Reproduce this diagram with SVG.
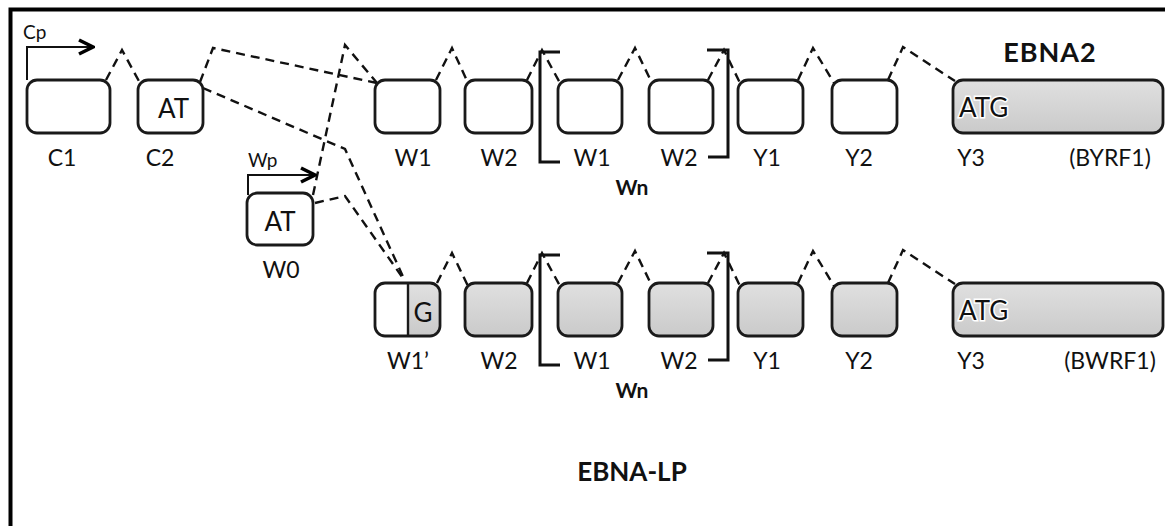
<svg xmlns="http://www.w3.org/2000/svg" width="1165" height="526" viewBox="0 0 1165 526">
  <defs>
    <linearGradient id="shade" x1="0" y1="0" x2="0" y2="1">
      <stop offset="0" stop-color="#e0e0e0"/>
      <stop offset="1" stop-color="#cacaca"/>
    </linearGradient>
    <marker id="chev" viewBox="0 0 18 18" refX="16" refY="9" markerWidth="18" markerHeight="18" markerUnits="userSpaceOnUse" orient="auto">
      <path d="M2,2 L16,9 L2,16" fill="none" stroke="#000" stroke-width="3.6" stroke-linejoin="miter"/>
    </marker>
    <style>
      .exon { fill: #fff; stroke: #1a1a1a; stroke-width: 2.8; }
      .exon.coding { fill: url(#shade); }
      .lbl { font-family: Lato, "Open Sans", sans-serif; font-size: 23px; fill: #111; text-anchor: middle; }
      .inbox { font-family: Lato, "Open Sans", sans-serif; font-size: 26px; fill: #111; }
      .atg { paint-order: stroke; stroke: #fff; stroke-width: 3; }
      .bold { font-family: Lato, "Open Sans", sans-serif; font-weight: bold; fill: #111; text-anchor: middle; }
      .prom { font-family: Lato, "Open Sans", sans-serif; font-size: 19px; fill: #111; }
      .splice { fill: none; stroke: #111; stroke-width: 2.4; stroke-dasharray: 9 6; }
      .bracket { fill: none; stroke: #111; stroke-width: 3; }
      .arrow { fill: none; stroke: #111; stroke-width: 2; marker-end: url(#chev); }
    </style>
  </defs>

  <rect width="1165" height="526" fill="#fff"/>
  <!-- frame -->
  <path d="M10.5,526 V9.5 H1165" fill="none" stroke="#000" stroke-width="4"/>

  <!-- splice connectors -->
  <g id="connectors">
    <!-- EBNA2 transcript -->
    <polyline class="splice" points="106,80 122,50 140,83"/>
    <polyline class="splice" points="200,82 213,48 377,83"/>
    <polyline class="splice" points="203,88 345,149 405,281"/>
    <polyline class="splice" points="313,195 345,45 377,83"/>
    <polyline class="splice" points="315,203 345,196 405,281"/>
    <polyline class="splice" points="436,80 452,48 468,83"/>
    <polyline class="splice" points="527,80 542,50 560,83"/>
    <polyline class="splice" points="618,80 635,48 652,83"/>
    <polyline class="splice" points="708,80 724,50 740,83"/>
    <polyline class="splice" points="798,80 813,48 834,83"/>
    <polyline class="splice" points="888,80 903,47 955,81"/>
    <!-- EBNA-LP transcript -->
    <polyline class="splice" points="437,283 452,253 468,286"/>
    <polyline class="splice" points="527,283 542,253 560,286"/>
    <polyline class="splice" points="618,283 635,251 652,286"/>
    <polyline class="splice" points="708,283 724,253 740,286"/>
    <polyline class="splice" points="798,283 813,251 834,286"/>
    <polyline class="splice" points="888,283 903,250 955,284"/>
    <!-- promoters -->
    <polyline class="arrow" points="27,80 27,47 93,47"/>
    <polyline class="arrow" points="248,195 248,175 315,175"/>
  </g>

  <!-- repeat brackets -->
  <g id="repeat-top">
    <path class="bracket" d="M560,52 H540 V162 H560"/>
    <path class="bracket" d="M707,50 H728 V157 H708"/>
    <text class="bold" x="632" y="195" font-size="21">Wn</text>
  </g>
  <g id="repeat-bottom">
    <path class="bracket" d="M560,255 H540 V365 H560"/>
    <path class="bracket" d="M707,253 H728 V360 H708"/>
    <text class="bold" x="632" y="398" font-size="21">Wn</text>
  </g>

  <!-- EBNA2 exons -->
  <g id="C1"><rect class="exon" x="27" y="80" width="83" height="53" rx="10"/><text class="lbl" x="62" y="166">C1</text></g>
  <g id="C2"><rect class="exon" x="138" y="80" width="65" height="53" rx="10"/><text class="inbox" x="158" y="118">AT</text><text class="lbl" x="160" y="166">C2</text></g>
  <g id="W1-a"><rect class="exon" x="375" y="80" width="65" height="53" rx="10"/><text class="lbl" x="413" y="166">W1</text></g>
  <g id="W2-a"><rect class="exon" x="465" y="80" width="67" height="53" rx="10"/><text class="lbl" x="499" y="166">W2</text></g>
  <g id="W1n-a"><rect class="exon" x="558" y="80" width="64" height="53" rx="10"/><text class="lbl" x="592" y="166">W1</text></g>
  <g id="W2n-a"><rect class="exon" x="649" y="80" width="64" height="53" rx="10"/><text class="lbl" x="679" y="166">W2</text></g>
  <g id="Y1-a"><rect class="exon" x="738" y="80" width="65" height="53" rx="10"/><text class="lbl" x="767" y="166">Y1</text></g>
  <g id="Y2-a"><rect class="exon" x="832" y="80" width="65" height="53" rx="10"/><text class="lbl" x="859" y="166">Y2</text></g>
  <g id="Y3-a">
    <rect class="exon coding" x="953" y="80" width="210" height="53" rx="10"/>
    <text class="inbox atg" x="959" y="117">ATG</text>
    <text class="lbl" x="971" y="166">Y3</text>
    <text class="lbl" x="1110" y="166">(BYRF1)</text>
    <text class="bold" x="1050" y="62" font-size="27" letter-spacing="1">EBNA2</text>
  </g>

  <!-- W promoter exon -->
  <g id="W0">
    <rect class="exon" x="247" y="193" width="66" height="52" rx="10"/>
    <text class="inbox" x="280" y="231" text-anchor="middle">AT</text>
    <text class="lbl" x="281" y="278">W0</text>
  </g>
  <text class="prom" x="23" y="39">Cp</text>
  <text class="prom" x="248" y="167">Wp</text>

  <!-- EBNA-LP exons -->
  <g id="W1p-b">
    <path d="M408,284.3 H430 A8.7,8.7 0 0 1 438.7,293 V326 A8.7,8.7 0 0 1 430,334.7 H408 Z" fill="url(#shade)" stroke="none"/>
    <path d="M408,284.3 H385 A8.7,8.7 0 0 0 376.3,293 V326 A8.7,8.7 0 0 0 385,334.7 H408 Z" fill="#fff" stroke="none"/>
    <rect x="375" y="283" width="65" height="53" rx="10" fill="none" stroke="#1a1a1a" stroke-width="2.8"/>
    <line x1="408" y1="283" x2="408" y2="336" stroke="#1a1a1a" stroke-width="2.4"/>
    <text class="inbox" x="423" y="322" text-anchor="middle" font-size="24">G</text>
    <text class="lbl" x="408" y="369">W1’</text>
  </g>
  <g id="W2-b"><rect class="exon coding" x="465" y="283" width="67" height="53" rx="10"/><text class="lbl" x="499" y="369">W2</text></g>
  <g id="W1n-b"><rect class="exon coding" x="558" y="283" width="64" height="53" rx="10"/><text class="lbl" x="592" y="369">W1</text></g>
  <g id="W2n-b"><rect class="exon coding" x="649" y="283" width="64" height="53" rx="10"/><text class="lbl" x="679" y="369">W2</text></g>
  <g id="Y1-b"><rect class="exon coding" x="738" y="283" width="65" height="53" rx="10"/><text class="lbl" x="767" y="369">Y1</text></g>
  <g id="Y2-b"><rect class="exon coding" x="832" y="283" width="65" height="53" rx="10"/><text class="lbl" x="859" y="369">Y2</text></g>
  <g id="Y3-b">
    <rect class="exon coding" x="953" y="283" width="210" height="53" rx="10"/>
    <text class="inbox atg" x="959" y="320">ATG</text>
    <text class="lbl" x="971" y="369">Y3</text>
    <text class="lbl" x="1110" y="369">(BWRF1)</text>
  </g>
  <text class="bold" x="632" y="481" font-size="26">EBNA-LP</text>
</svg>
